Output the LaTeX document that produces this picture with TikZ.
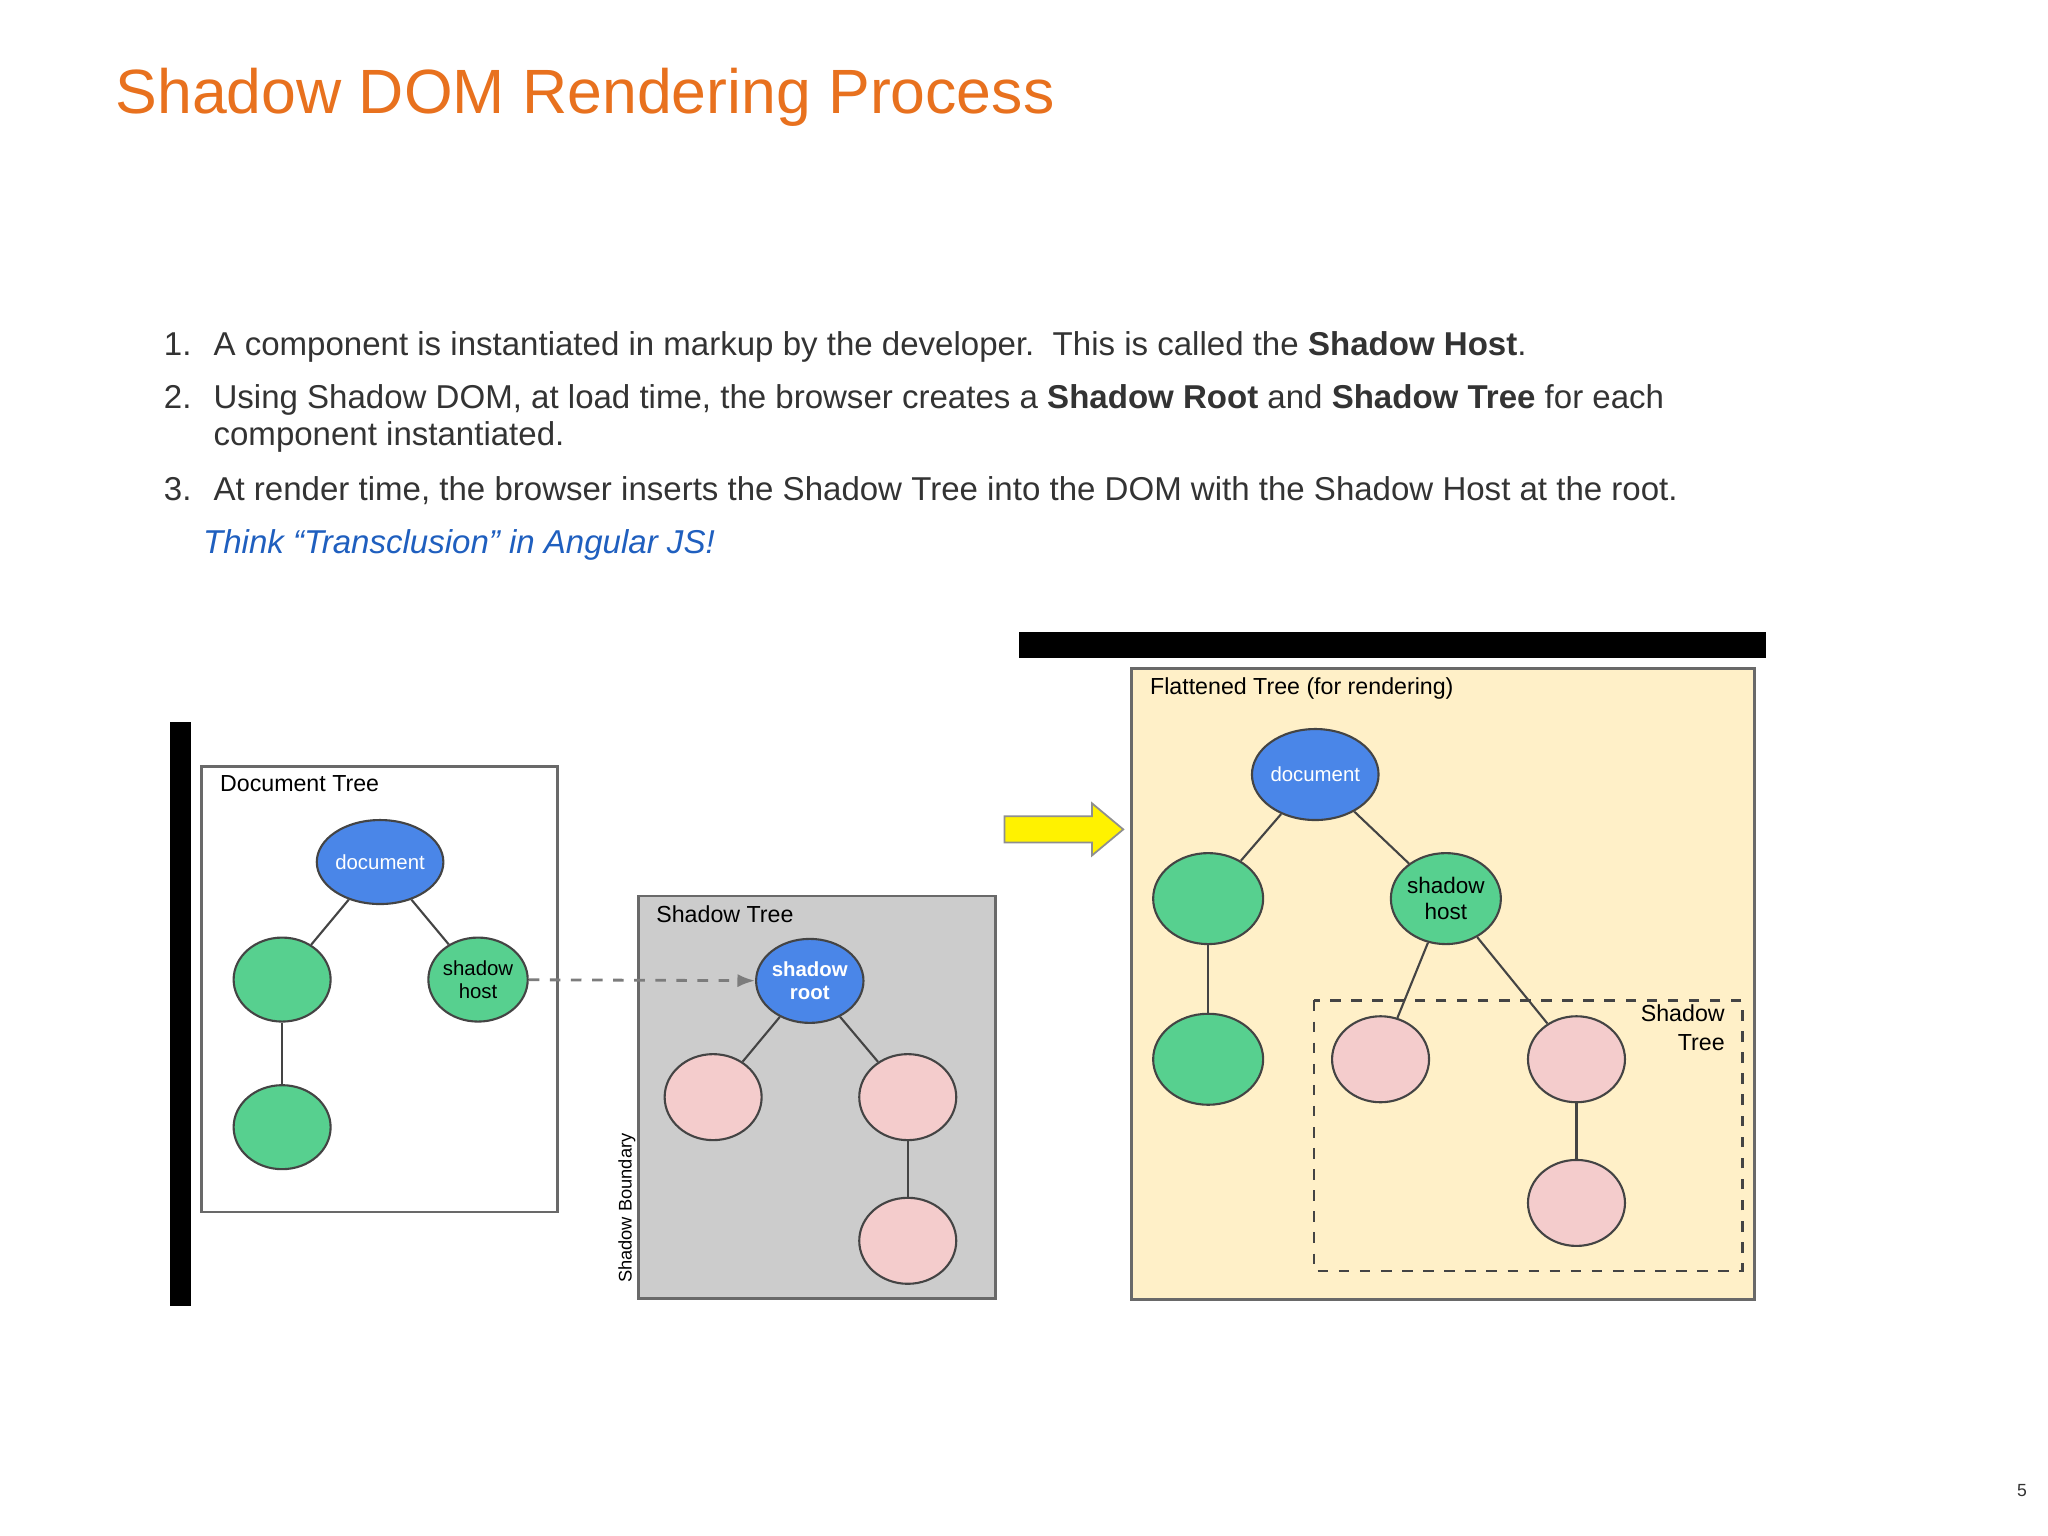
\documentclass[tikz,border=0pt]{standalone}
\usepackage{fontspec}
\setmainfont{Liberation Sans}
\usetikzlibrary{arrows.meta}
\definecolor{Title}{HTML}{E8711E}
\definecolor{Body}{HTML}{333333}
\definecolor{Note}{HTML}{1F5FBF}
\definecolor{DocBlue}{HTML}{4A86E8}
\definecolor{NodeGreen}{HTML}{57D08F}
\definecolor{NodePink}{HTML}{F4CCCC}
\definecolor{Rim}{HTML}{444444}
\definecolor{ShadowGray}{HTML}{CCCCCC}
\definecolor{Flat}{HTML}{FFF0C8}
\begin{document}
\begin{tikzpicture}[x=0.013061cm, y=-0.013061cm,
  body/.style={anchor=base west, inner sep=0, text=Body, font=\fontsize{9.4pt}{11.2pt}\selectfont},
  box/.style={draw=Rim!80, line width=0.8pt},
  boxlabel/.style={anchor=north west, inner sep=0, font=\fontsize{6.6pt}{8pt}\selectfont},
  tnode/.style={ellipse, draw=Rim, line width=0.6pt, minimum width=74\pgflinewidth, inner sep=0, align=center,
                font=\fontsize{5.8pt}{6.6pt}\selectfont},
  doc/.style={tnode, fill=DocBlue, text=white, minimum width=0.97cm, minimum height=0.84cm},
  green/.style={tnode, fill=NodeGreen, minimum width=0.97cm, minimum height=0.84cm},
  pink/.style={tnode, fill=NodePink, minimum width=0.97cm, minimum height=0.86cm},
  edge/.style={draw=Rim, line width=0.6pt}]
\useasboundingbox[fill=white] (0,0) rectangle (1568,1176);
\usetikzlibrary{shapes.geometric}

% heading and text
\node[anchor=base west, inner sep=0, text=Title, font=\fontsize{17.8pt}{20pt}\selectfont] (title) at (88,87) {Shadow DOM Rendering Process};
\node[body] (n1) at (125,272) {1.};
\node[body] (t1) at (163,272) {A component is instantiated in markup by the developer.\ \ This is called the \textbf{Shadow Host}.};
\node[body] (n2) at (125,313) {2.};
\node[body] (t2) at (163,313) {Using Shadow DOM, at load time, the browser creates a \textbf{Shadow Root} and \textbf{Shadow Tree} for each};
\node[body] (t2b) at (163,341) {component instantiated.};
\node[body] (n3) at (125,383) {3.};
\node[body] (t3) at (163,383) {At render time, the browser inserts the Shadow Tree into the DOM with the Shadow Host at the root.};
\node[body, text=Note, font=\fontsize{9.4pt}{11.2pt}\itshape] (note) at (155,424) {Think “Transclusion” in Angular JS!};

% black bars
\fill[black] (130,553) rectangle (146,1000);
\fill[black] (780,484) rectangle (1352,504);

% document tree
\draw[box, fill=white] (154,587) rectangle (427,928);
\node[boxlabel] (dtl) at (168,593) {Document Tree};
\node[doc] (d1) at (291,660) {document};
\node[green] (g1) at (216,750) {};
\node[green] (g2) at (216,863) {};
\node[green] (h1) at (366,750) {shadow\\host};
\draw[edge] (d1) -- (g1);
\draw[edge] (d1) -- (h1);
\draw[edge] (g1) -- (g2);

% shadow tree
\draw[box, fill=ShadowGray] (489,686) rectangle (762,994);
\node[boxlabel] (stl) at (502,693) {Shadow Tree};
\node[doc] (r1) at (620,751) {\textbf{shadow}\\\textbf{root}};
\node[pink] (p1) at (546,840) {};
\node[pink] (p2) at (695,840) {};
\node[pink] (p3) at (695,950) {};
\draw[edge] (r1) -- (p1);
\draw[edge] (r1) -- (p2);
\draw[edge] (p2) -- (p3);
\node[rotate=90, inner sep=0, font=\fontsize{5.2pt}{6pt}\selectfont] (sb) at (480,925) {Shadow Boundary};
\draw[draw=Rim!70, line width=0.8pt, dashed, -{Latex[length=5pt]}] (h1) -- (r1);

% yellow arrow
\draw[fill=yellow, draw=Rim!60, line width=0.5pt]
  (769,625) -- (836,625) -- (836,615) -- (860,635) -- (836,655) -- (836,645) -- (769,645) -- cycle;

% flattened tree
\draw[box, fill=Flat] (866,512) rectangle (1343,995);
\node[boxlabel] (ftl) at (880,518) {Flattened Tree (for rendering)};
\node[doc, minimum width=1.07cm, minimum height=0.91cm] (d2) at (1007,593) {document};
\node[green, minimum width=1.1cm, minimum height=0.91cm] (g3) at (925,688) {};
\node[green, minimum width=1.1cm, minimum height=0.91cm] (g4) at (925,811) {};
\node[green, minimum width=1.1cm, minimum height=0.91cm, font=\fontsize{6.4pt}{7.4pt}\selectfont] (h2) at (1107,688) {shadow\\host};
\draw[draw=Rim, line width=0.7pt, dashed] (1006,766) rectangle (1334,973);
\node[anchor=north east, inner sep=0, align=right, font=\fontsize{6.6pt}{8pt}\selectfont] (stl2) at (1321,769) {Shadow\\Tree};
\node[pink] (p4) at (1057,811) {};
\node[pink] (p5) at (1207,811) {};
\node[pink] (p6) at (1207,921) {};
\draw[edge] (d2) -- (g3);
\draw[edge] (d2) -- (h2);
\draw[edge] (g3) -- (g4);
\draw[edge] (h2) -- (p4);
\draw[edge] (h2) -- (p5);
\draw[edge] (p5) -- (p6);

% page number
\node[anchor=base, inner sep=0, text=Body, font=\fontsize{5pt}{6pt}\selectfont] (pg) at (1548,1146) {5};
\end{tikzpicture}
\end{document}
